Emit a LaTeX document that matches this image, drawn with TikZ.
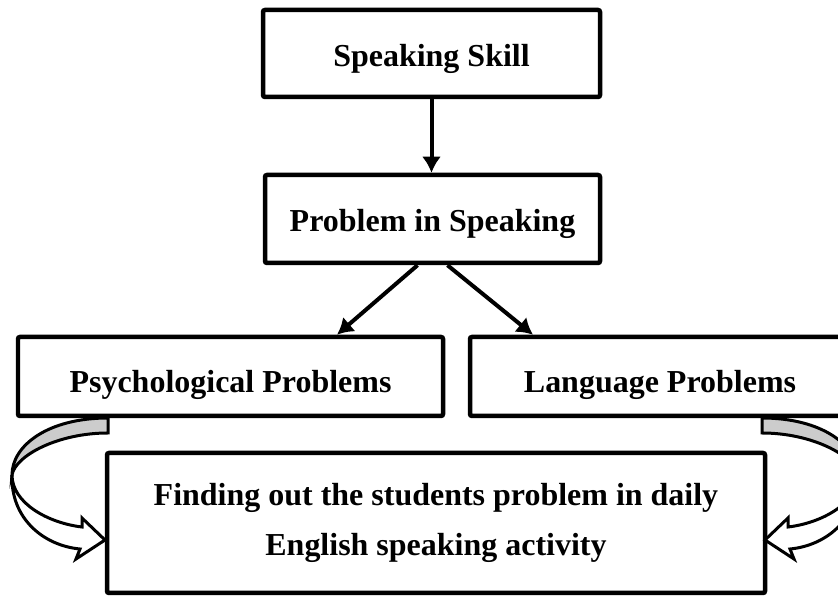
\documentclass[tikz,border=0pt]{standalone}
\usepackage{fontspec}
\setmainfont{Liberation Serif}
\usetikzlibrary{arrows.meta}
\tikzset{blk/.style = {draw, line width = 0.09cm, rounded corners = 0.04cm, inner sep = 0, text height = 0.66cm, text depth = 0.14cm, font = \fontsize{18.2}{28.5}\selectfont\bfseries}}
\tikzset{arr/.style = {line width = 0.08cm, -{Latex[length = 0.32cm, width = 0.38cm]}}}
\definecolor{lgray}{rgb}{0.8, 0.8, 0.8}
% ribbon arrow that turns round from one box into the one below
\tikzset{turnarrow/.pic = {
    \draw [line width = 0.06cm, fill = lgray] (0, 0) .. controls (-1.2, 0) and (-1.92, -0.55) .. (-1.92, -1.14)
      .. controls (-1.85, -0.75) and (-1.0, -0.3) .. (0, -0.3) -- cycle;
    \draw [line width = 0.06cm, fill = white] (-1.92, -1.14) .. controls (-1.92, -1.7) and (-1.2, -2.1) .. (-0.52, -2.18)
      -- (-0.52, -2.0) -- (-0.06, -2.44) -- (-0.64, -2.82) -- (-0.56, -2.62)
      .. controls (-1.3, -2.55) and (-1.95, -2.0) .. (-1.92, -1.14) -- cycle;
  }}

\begin{document}
\begin{tikzpicture}
      \useasboundingbox (0, 0) rectangle (16.76, -11.96);
      \clip (0, 0) rectangle (16.76, -11.96);
      \node [blk, minimum width = 6.74cm, minimum height = 1.74cm] (skill) at (8.63, -1.07) {Speaking Skill};
      \node [blk, minimum width = 6.7cm, minimum height = 1.76cm] (prob) at (8.65, -4.38) {Problem in Speaking};
      \node [blk, minimum width = 8.5cm, minimum height = 1.58cm, text height = 0.8cm] (psy) at (4.61, -7.53) {Psychological Problems};
      \node [blk, minimum width = 7.6cm, minimum height = 1.58cm, text height = 0.8cm] (lang) at (13.2, -7.53) {Language Problems};
      \node [blk, minimum width = 13.16cm, minimum height = 2.8cm, align = center, text height = {}, text depth = {}] (find) at (8.72, -10.46)
        {Finding out the students problem in daily\\ English speaking activity};
      \draw [arr] (skill.south) -- (skill.south |- prob.north);
      \draw [arr] ([xshift = -0.3cm] prob.south) -- ([xshift = 2.13cm] psy.north);
      \draw [arr] ([xshift = 0.3cm] prob.south) -- ([xshift = -2.54cm] lang.north);
      \pic at (2.16, -8.36) {turnarrow};
      \pic [xscale = -1] at (15.24, -8.36) {turnarrow};
    \end{tikzpicture}
\end{document}
